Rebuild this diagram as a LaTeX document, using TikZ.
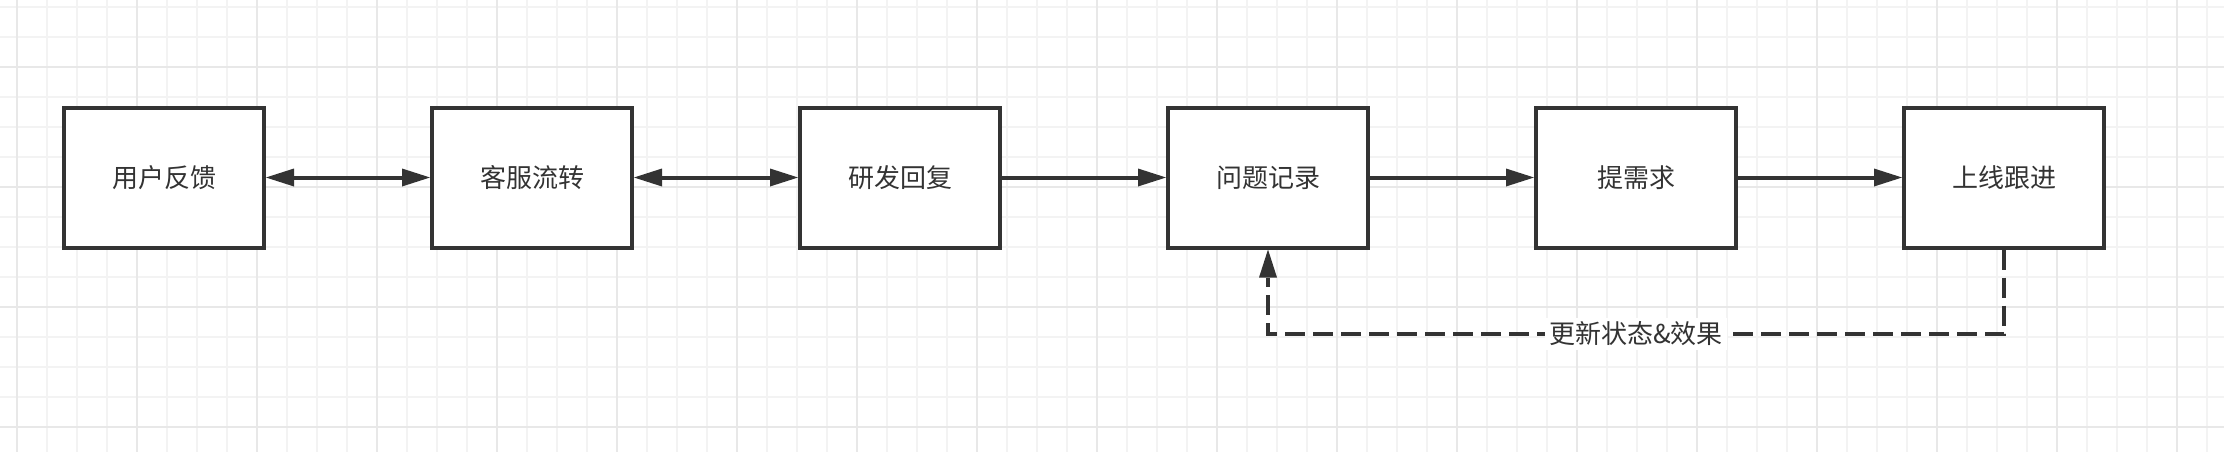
\documentclass[tikz,border=0pt]{standalone}
\usepackage{fontspec}
\newfontfamily\cjk{Noto Sans CJK SC}
\usetikzlibrary{arrows.meta}
\definecolor{ink}{HTML}{333333}
\definecolor{gridminor}{HTML}{F3F3F3}
\definecolor{gridmajor}{HTML}{E8E8E8}
\tikzset{
  box/.style={draw=ink, line width=4pt, fill=white, minimum width=200pt,
    minimum height=140pt, inner sep=0pt, text=ink,
    font=\cjk\fontsize{26pt}{30pt}\selectfont},
  conn/.style={draw=ink, line width=4pt},
  blk/.tip={Triangle[length=28pt,width=18pt,line width=0pt]},
  dashline/.style={conn, dash pattern=on 20pt off 8pt},
  lbl/.style={fill=white, text=ink, inner sep=4pt,
    font=\cjk\fontsize{26pt}{30pt}\selectfont}
}
\begin{document}
\begin{tikzpicture}[x=1pt,y=-1pt]
\fill[white] (0,0) rectangle (2224,452);
\useasboundingbox (0,0) rectangle (2224,452);
% grid
\foreach \i in {0,...,73} {
  \draw[gridminor, line width=2pt] ({17.3+30*\i},0) -- ({17.3+30*\i},452);
}
\foreach \i in {0,...,14} {
  \draw[gridminor, line width=2pt] (0,{6.7+30*\i}) -- (2224,{6.7+30*\i});
}
\foreach \i in {0,...,18} {
  \draw[gridmajor, line width=2pt] ({17.3+120*\i},0) -- ({17.3+120*\i},452);
}
\foreach \i in {0,...,3} {
  \draw[gridmajor, line width=2pt] (0,{66.7+120*\i}) -- (2224,{66.7+120*\i});
}
% boxes
\node[box] (n1) at (164,177.5) {用户反馈};
\node[box] (n2) at (532,177.5) {客服流转};
\node[box] (n3) at (900,177.5) {研发回复};
\node[box] (n4) at (1268,177.5) {问题记录};
\node[box] (n5) at (1636,177.5) {提需求};
\node[box] (n6) at (2004,177.5) {上线跟进};
% connectors
\draw[conn, blk-blk] (n1) -- (n2);
\draw[conn, blk-blk] (n2) -- (n3);
\draw[conn, -blk] (n3) -- (n4);
\draw[conn, -blk] (n4) -- (n5);
\draw[conn, -blk] (n5) -- (n6);
\coordinate (low) at (0,334);
\draw[dashline, -blk] (n6.south) -- (n6.south |- low)
  -- (n4.south |- low) node[midway, lbl] {更新状态\&效果}
  -- (n4.south);
\end{tikzpicture}
\end{document}
